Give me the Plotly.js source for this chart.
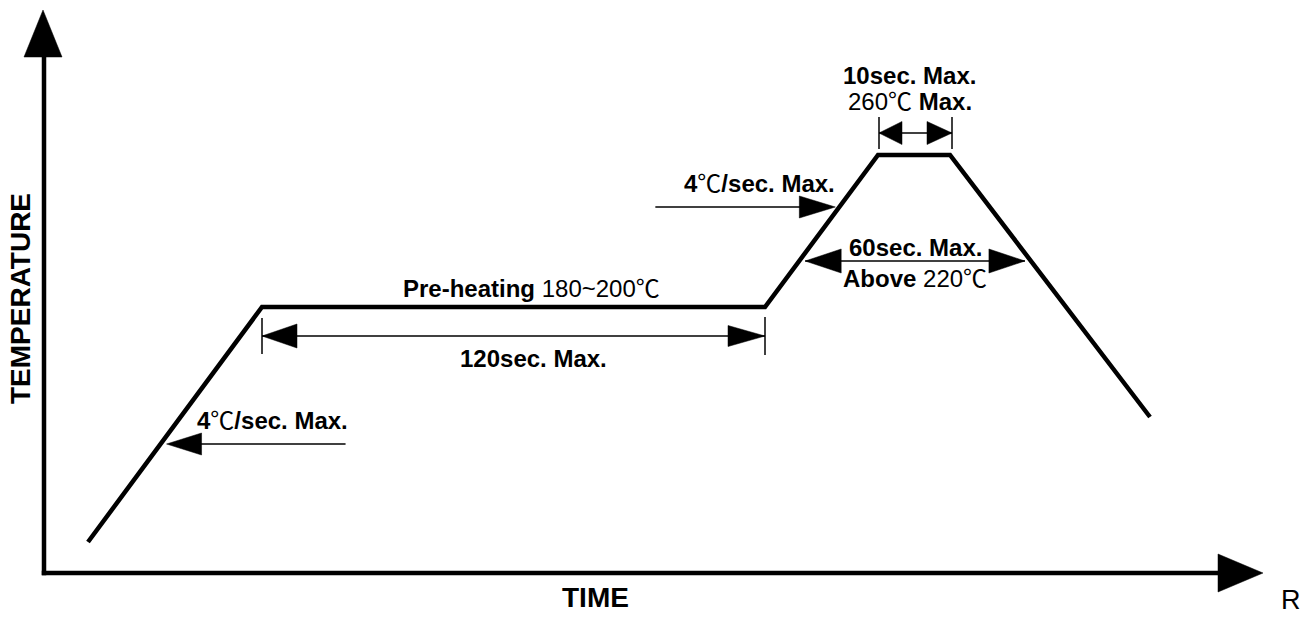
<!DOCTYPE html>
<html><head><meta charset="utf-8">
<script src="https://cdn.plot.ly/plotly-3.0.1.min.js"></script>
<style>html,body{margin:0;padding:0;background:#fff}#chart{width:1305px;height:619px}</style>
</head><body><div id="chart"></div>
<script>
// Schematic reflow soldering profile (arbitrary schematic units)
const profileTime = [44, 218, 721, 834, 906, 1106];
const profileTemp = [31, 266, 266, 418, 418, 156];
const axisTitles = ['TIME', 'TEMPERATURE'];
const rampLabel = '<b>4</b>℃<b>/sec. Max.</b>';
const preheatLabel = '<b>Pre-heating</b> 180~200℃';
const preheatTimeLabel = '<b>120sec. Max.</b>';
const peakTimeLabel = '<b>10sec. Max.</b>';
const peakTempLabel = '260℃ <b>Max.</b>';
const liquidTimeLabel = '<b>60sec. Max.</b>';
const liquidTempLabel = '<b>Above</b> 220℃';

const BLACK = '#000';
const FONT = 'Liberation Sans, Arial, "Noto Sans CJK SC", sans-serif';
const shapes = [];
function seg(x0, y0, x1, y1, w) {
  shapes.push({type: 'line', x0, y0, x1, y1, line: {color: BLACK, width: w}});
}
function tri(tx, ty, dx, dy, len, half) {
  const bx = tx - dx * len, by = ty - dy * len;
  const px = -dy, py = dx;
  const path = `M${tx},${ty} L${bx + px * half},${by + py * half} L${bx - px * half},${by - py * half} Z`;
  shapes.push({type: 'path', path, fillcolor: BLACK, line: {color: BLACK, width: 0.5}});
}
function crossTime(i, level) {
  const t0 = profileTime[i], t1 = profileTime[i + 1], y0 = profileTemp[i], y1 = profileTemp[i + 1];
  return t0 + (level - y0) / (y1 - y0) * (t1 - t0);
}

// axes with arrowheads
seg(-2.25, 0, 1176, 0, 4.5); tri(1219, 0, 1, 0, 45, 19);
seg(0, -2.25, 0, 518, 4.5); tri(-1, 563, 0, 1, 47, 19);

// preheat duration (double arrow with end ticks)
(function () {
  const y = profileTemp[1] - 29, x0 = profileTime[1], x1 = profileTime[2];
  seg(x0, y, x1, y, 1.5);
  seg(x0, y - 18, x0, y + 18, 1.5); seg(x1, y - 19, x1, y + 19, 1.5);
  tri(x0, y, -1, 0, 35, 12); tri(x1, y, 1, 0, 37, 10.5);
})();
// peak duration
(function () {
  const y = profileTemp[3] + 22, x0 = profileTime[3] + 1, x1 = profileTime[4] + 2;
  seg(x0, y, x1, y, 1.5);
  seg(x0, y - 16, x0, y + 16, 1.5); seg(x1, y - 16, x1, y + 16, 1.5);
  tri(x0, y, -1, 0, 23, 11.5); tri(x1, y, 1, 0, 25, 11.5);
})();
// time above liquidus
(function () {
  const lv = 312, xl = crossTime(2, lv) + 6, xr = crossTime(4, lv) - 6;
  seg(xl, lv, xr, lv, 1.5);
  tri(xl, lv, -1, 0, 36, 12); tri(xr, lv, 1, 0, 36, 12);
})();
// ramp arrows
(function () {
  const lv = 366, tip = crossTime(2, lv) - 4;
  seg(tip - 180, lv, tip - 10, lv, 1.5); tri(tip, lv, 1, 0, 36, 11);
  const lv2 = 129, tip2 = crossTime(0, lv2) + 6;
  seg(tip2 + 10, lv2, tip2 + 179, lv2, 1.5); tri(tip2, lv2, -1, 0, 35, 11);
})();

function note(text, x, y, size, extra) {
  return Object.assign({text, x, y, xref: 'x', yref: 'y', showarrow: false,
    font: {family: FONT, size: size, color: BLACK}}, extra || {});
}
const annotations = [
  note(rampLabel, 228, 153, 24),
  note(rampLabel, 715, 390, 24),
  note(preheatLabel, 487, 285, 24),
  note(preheatTimeLabel, 489, 215, 24),
  note(peakTimeLabel, 865, 498, 24),
  note(peakTempLabel, 866, 472, 24),
  note(liquidTimeLabel, 871, 326, 24),
  note(liquidTempLabel, 871, 295, 24),
  note('<b>' + axisTitles[0] + '</b>', 551, -24, 28),
  note('<b>' + axisTitles[1] + '</b>', -24, 274, 28, {textangle: -90}),
  note('R', 1247, -27, 27)
];

const trace = {
  x: profileTime, y: profileTemp, type: 'scatter', mode: 'lines',
  line: {color: BLACK, width: 4.5}, hoverinfo: 'skip', showlegend: false
};

const layout = {
  width: 1305, height: 619,
  margin: {l: 0, r: 0, t: 0, b: 0, pad: 0},
  paper_bgcolor: '#fff', plot_bgcolor: '#fff',
  xaxis: {range: [-44, 1261], visible: false, fixedrange: true},
  yaxis: {range: [-46, 573], visible: false, fixedrange: true},
  shapes, annotations, showlegend: false
};
Plotly.newPlot('chart', [trace], layout, {staticPlot: true, displayModeBar: false});
</script></body></html>
